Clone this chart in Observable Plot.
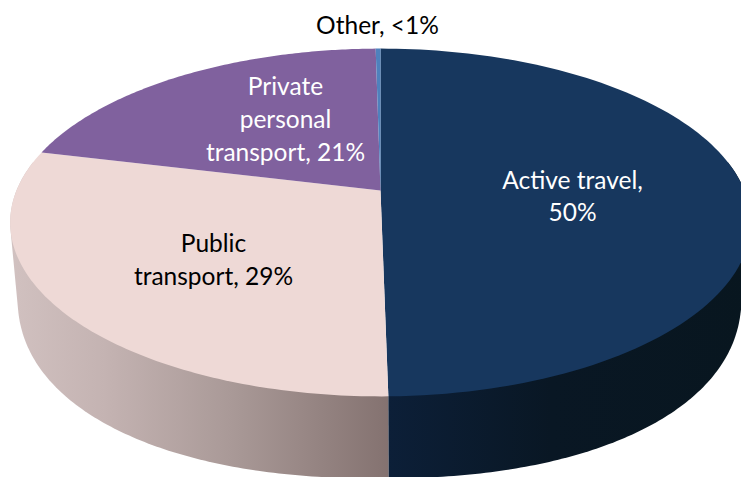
<!DOCTYPE html>
<html>
<head>
<meta charset="utf-8">
<script src="https://cdn.jsdelivr.net/npm/d3@7"></script>
<script src="https://cdn.jsdelivr.net/npm/@observablehq/plot@0.6"></script>
<style>html,body{margin:0;padding:0;background:#fff;overflow:hidden}svg{display:block}</style>
</head>
<body>
<div id="chart"></div>
<script>
const categories = ["Active travel", "Public transport", "Private personal transport", "Other"];
const shares = [49.72, 29.08, 20.95, 0.25];
const labels = ["Active travel,\n50%", "Public\ntransport, 29%", "Private\npersonal\ntransport, 21%", "Other, <1%"];
const topColors = ["#17375e", "#eed9d6", "#80619e", "#4f81bd"];
const labelColors = ["white", "black", "white", "black"];
const labelX = [572, 213, 285, 377];
const labelY = [194, 257.5, 117, 23.5];

// Tilted-disc view of the pie
const W = 741, H = 477;
const cx = 380, cy = 190, rx = 364, a = 168, k = 0.184;
const floorX = 379, floorY = 295, floorW = 362, floorH = 183, floorP = 2 / 2.2;
const spow = (v, p) => Math.sign(v) * Math.abs(v) ** p;
function project(deg, floor) {
  const t = deg * Math.PI / 180, X = Math.sin(t), Y = Math.cos(t), d = 1 + k * Y;
  if (floor) return {x: floorX + floorW * spow(X, floorP), y: floorY - floorH * spow(Y, floorP)};
  return {x: cx + rx * X / d, y: cy - a * Y / d};
}
const arc = (from, to, floor) => d3.range(0, 121).map(i => project(from + (to - from) * i / 120, floor));

// slice boundaries, clockwise from twelve o'clock
let acc = 0;
const slices = shares.map((v, i) => {
  const start = acc * 3.6; acc += v;
  return {i, start, end: acc * 3.6};
});
const faces = slices.flatMap(s =>
  [{x: cx, y: cy, i: s.i}, ...arc(s.start, s.end, false).map(p => ({...p, i: s.i}))]);

const hull = pts => d3.polygonHull(pts.map(p => [p.x, p.y])).map(([x, y]) => ({x, y}));
const front = slices[0].end;
const sideRight = hull([...arc(80, front, false), ...arc(80, front, true)]);
const sideLeft = hull([...arc(front, 280, false), ...arc(front, 280, true)]);

const defs = () => {
  const g = d3.create("svg:defs");
  const add = (id, stops) => {
    const lg = g.append("linearGradient").attr("id", id).attr("x1", 0).attr("x2", 1).attr("y1", 0).attr("y2", 0);
    stops.forEach(([o, c]) => lg.append("stop").attr("offset", o).attr("stop-color", c));
  };
  add("sideL", [[0, "#d1c1c0"], [0.25, "#c4b3b2"], [0.6, "#a89896"], [1, "#847270"]]);
  add("sideR", [[0, "#0c1f38"], [0.45, "#091724"], [1, "#08161f"]]);
  return g.node();
};

const chart = Plot.plot({
  width: W, height: H,
  margin: 0,
  x: {domain: [0, W], range: [0, W], axis: null},
  y: {domain: [0, H], range: [0, H], axis: null},
  style: {background: "white", fontFamily: "Lato, sans-serif"},
  marks: [
    defs,
    Plot.line(sideLeft, {x: "x", y: "y", fill: "url(#sideL)", stroke: "none"}),
    Plot.line(sideRight, {x: "x", y: "y", fill: "url(#sideR)", stroke: "none"}),
    ...slices.map(s => Plot.line(faces.filter(p => p.i === s.i), {x: "x", y: "y", fill: topColors[s.i], stroke: "none"})),
    Plot.text(labels, {
      x: (d, i) => labelX[i], y: (d, i) => labelY[i],
      text: d => d, fill: (d, i) => labelColors[i],
      fontSize: 24.5, lineHeight: 1.33, textAnchor: "middle", frameAnchor: "middle"
    })
  ]
});
document.getElementById("chart").append(chart);
</script>
</body>
</html>
